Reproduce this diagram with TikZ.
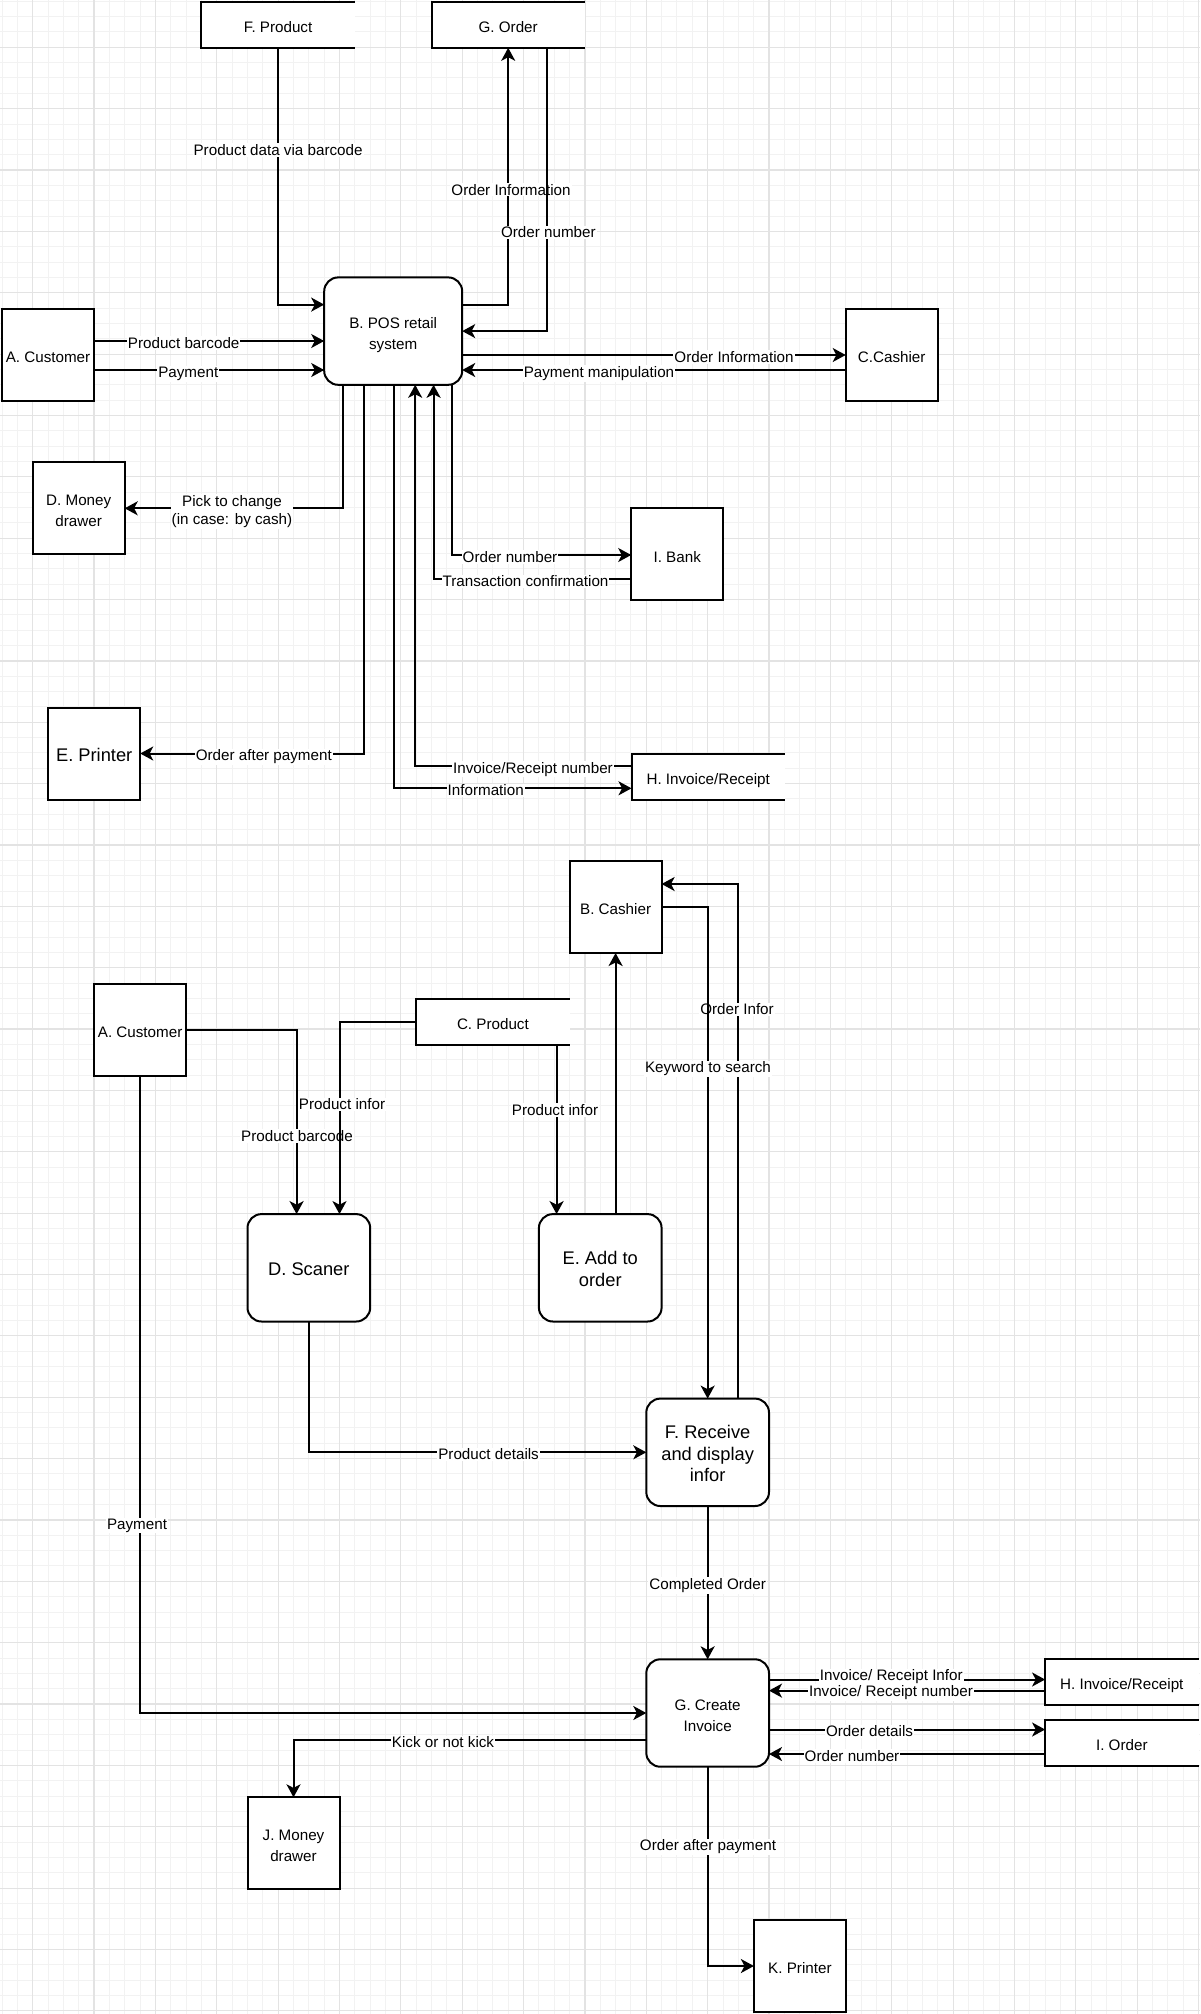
\documentclass[tikz,border=0pt]{standalone}
\usepackage{fontspec}
\setmainfont{Liberation Sans}
\usetikzlibrary{arrows.meta}
\newcommand\dfsmall{\fontsize{7.6pt}{10.8pt}\selectfont}
\newcommand\dflarge{\fontsize{9.15pt}{10.8pt}\selectfont}
\newcommand\dflbl{\fontsize{7.6pt}{9.15pt}\selectfont}
\newcommand\dftop{\rule{0pt}{9.8pt}}
\newcommand\dfbot{\rule[-2pt]{0pt}{2pt}}
\tikzset{
  ent/.style={draw, fill=white, line width=1pt, minimum width=46pt, minimum height=46pt,
    inner sep=0pt, outer sep=0pt, align=center, font=\dfsmall,
    execute at begin node=\dftop, execute at end node=\dfbot},
  proc/.style={ent, rounded corners=7pt, minimum width=61.35pt, minimum height=53.7pt},
  procL/.style={proc, font=\dflarge},
  store/.style={fill=white, minimum width=76.7pt, minimum height=23pt, inner sep=0pt,
    outer sep=0pt, align=center, font=\dfsmall,
    execute at begin node=\dftop, execute at end node=\dfbot},
  storeline/.style={line width=1pt},
  arr/.style={-{Stealth[length=6.5pt,width=7pt,inset=1.8pt]}, line width=1pt},
  lbl/.style={fill=white, inner sep=0.5pt, anchor=base, yshift=-3.7pt, font=\dfsmall},
  lbltwo/.style={fill=white, inner sep=0.5pt, align=center, font=\dflbl},
  minorgrid/.style={black!5, line width=0.5pt},
  majorgrid/.style={black!11, line width=0.6pt}
}
\begin{document}
\begin{tikzpicture}[x=0.5pt,y=-0.5pt]
\useasboundingbox (0,0) rectangle (1200,2014);
\fill[white] (0,0) rectangle (1200,2014);
% grid
\foreach \i in {0,...,78} \draw[minorgrid] ({2.02+15.34*\i},0) -- ++(0,2014);
\foreach \j in {0,...,131} \draw[minorgrid] (0,{1.28+15.34*\j}) -- ++(1200,0);
\foreach \i in {0,...,19} \draw[majorgrid] ({32.7+61.36*\i},0) -- ++(0,2014);
\foreach \j in {0,...,32} \draw[majorgrid] (0,{47.3+61.36*\j}) -- ++(1200,0);

% ===== top diagram nodes =====
\node[ent] (ACust) at (48.0,354.5) {A. Customer};
\node[proc, minimum width=69pt] (BPOS) at (393.2,331.1) {\dftop B. POS retail\\system};
\node[ent] (CCash) at (891.7,354.5) {C.Cashier};
\node[ent] (DMoney) at (78.7,508) {\dftop D. Money\\drawer};
\node[ent, font=\dflarge] (EPrinter) at (94.2,753.8) {E. Printer};
\node[store] (FProd) at (278.1,24.8) {F. Product};
\node[store] (GOrd) at (508.2,24.8) {G. Order};
\node[store] (HInv) at (708.2,776.5) {H. Invoice/Receipt};
\node[ent] (IBank) at (677.2,554.3) {I. Bank};
\foreach \s in {FProd,GOrd,HInv}
  \draw[storeline] (\s.north east) -- (\s.north west) -- (\s.south west) -- (\s.south east);

% ===== top diagram edges =====
\draw[arr] (FProd.south) |- (BPOS.west |- 0,304.6)
  node[lbl] (t1) at (278.1,148) {Product data via barcode};
\draw[arr] (BPOS.east |- 0,304.6) -| (GOrd.south)
  node[lbl] (t2) at (511,187.7) {Order Information};
\draw[arr] (GOrd.south -| 546.6,0) |- (BPOS.east)
  node[lbl] (t3) at (548.4,230.3) {Order number};
\draw[arr] (ACust.east |- 0,341) -- (BPOS.west |- 0,341)
  node[lbl] (t4) at (183.7,341) {Product barcode};
\draw[arr] (ACust.east |- 0,370) -- (BPOS.west |- 0,370)
  node[lbl] (t5) at (188.3,370) {Payment};
\draw[arr] (BPOS.east |- 0,355) -- (CCash.west |- 0,355)
  node[lbl] (t6) at (734,355) {Order Information};
\draw[arr] (CCash.west |- 0,370) -- (BPOS.east |- 0,370)
  node[lbl] (t7) at (599,370) {Payment manipulation};
\draw[arr] (BPOS.south -| 343.3,0) |- (DMoney.east |- 0,508.3)
  node[lbltwo] (t8) at (232,511.7) {Pick to change\\(in case: by cash)};
\draw[arr] (BPOS.south -| 451.6,0) |- (IBank.west |- 0,555)
  node[lbl] (t9) at (510,555) {Order number};
\draw[arr] (IBank.west |- 0,579.3) -| (BPOS.south -| 433.6,0)
  node[lbl] (t10) at (525.5,579.3) {Transaction confirmation};
\draw[arr] (BPOS.south -| 364.3,0) |- (EPrinter.east |- 0,753.5)
  node[lbl] (t11) at (263.8,753.5) {Order after payment};
\draw[arr] (HInv.west |- 0,765.7) -| (BPOS.south -| 415.2,0)
  node[lbl] (t12) at (533,765.7) {Invoice/Receipt number};
\draw[arr] (BPOS.south -| 394.2,0) |- (HInv.west |- 0,788.3)
  node[lbl] (t13) at (485.7,788.3) {Information};

% ===== bottom diagram nodes =====
\node[ent] (ACust2) at (140.1,1029.5) {A. Customer};
\node[ent] (BCash2) at (615.6,907) {B. Cashier};
\node[store] (CProd) at (492.9,1022) {C. Product};
\node[procL] (DScan) at (308.85,1267.8) {D. Scaner};
\node[procL] (EAdd) at (600.25,1267.8) {\dftop E. Add to\\order};
\node[procL] (FRecv) at (707.65,1452.3) {\dftop F. Receive\\and display\\infor};
\node[proc] (GCreate) at (707.65,1713) {\dftop G. Create\\Invoice};
\node[store] (HInv2) at (1121.8,1682) {H. Invoice/Receipt};
\node[store] (IOrd) at (1121.8,1742.6) {I. Order};
\node[ent] (JMoney) at (293.5,1843.3) {\dftop J. Money\\drawer};
\node[ent] (KPrint) at (799.9,1966) {K. Printer};
\foreach \s in {CProd,HInv2,IOrd}
  \draw[storeline] (\s.north east) -- (\s.north west) -- (\s.south west) -- (\s.south east);

% ===== bottom diagram edges =====
\draw[arr] (ACust2.east) -| (DScan.north -| 296.6,0)
  node[lbl] (b1) at (297,1134) {Product barcode};
\draw[arr] (CProd.west) -| (DScan.north -| 339.5,0)
  node[lbl] (b2) at (342,1102.3) {Product infor};
\draw[arr] (CProd.south -| 556.6,0) -- (EAdd.north -| 556.6,0)
  node[lbl] (b3) at (555,1108) {Product infor};
\draw[arr] (EAdd.north -| 615.6,0) -- (BCash2.south);
\draw[arr] (FRecv.north -| 738.3,0) |- (BCash2.east |- 0,884)
  node[lbl] (b4) at (737,1007.3) {Order Infor};
\draw[arr] (BCash2.east) -| (FRecv.north)
  node[lbl] (b5) at (708,1065.3) {Keyword to search};
\draw[arr] (DScan.south) |- (FRecv.west)
  node[lbl] (b6) at (488.6,1452.3) {Product details};
\draw[arr] (FRecv.south) -- (GCreate.north)
  node[lbl] (b7) at (707.65,1582) {Completed Order};
\draw[arr] (ACust2.south) |- (GCreate.west)
  node[lbl] (b8) at (137,1521.7) {Payment};
\draw[arr] (GCreate.east |- 0,1679.5) -- (HInv2.west |- 0,1679.5)
  node[lbl] (b9) at (891.3,1673.5) {Invoice/ Receipt Infor};
\draw[arr] (HInv2.west |- 0,1690.6) -- (GCreate.east |- 0,1690.6)
  node[lbl] (b10) at (891,1689) {Invoice/ Receipt number};
\draw[arr] (GCreate.east |- 0,1729.5) -- (IOrd.west |- 0,1729.5)
  node[lbl] (b11) at (869.5,1729.5) {Order details};
\draw[arr] (IOrd.west |- 0,1754) -- (GCreate.east |- 0,1754)
  node[lbl] (b12) at (852,1754) {Order number};
\draw[arr] (GCreate.west |- 0,1740) -| (JMoney.north)
  node[lbl] (b13) at (443,1740.5) {Kick or not kick};
\draw[arr] (GCreate.south) |- (KPrint.west)
  node[lbl] (b14) at (708,1843.2) {Order after payment};
\end{tikzpicture}
\end{document}
